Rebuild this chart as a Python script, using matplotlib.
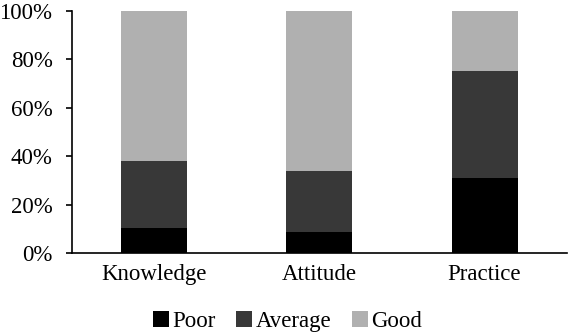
import matplotlib
matplotlib.use('Agg')
import matplotlib.pyplot as plt
from matplotlib.ticker import PercentFormatter
import numpy as np

categories = ['Knowledge', 'Attitude', 'Practice']
poor = [10.5, 8.8, 31.0]
average = [27.5, 25.1, 44.2]
good = [62.0, 66.1, 24.8]

plt.rcParams['font.family'] = ['Liberation Serif', 'DejaVu Serif']

fig = plt.figure(figsize=(5.69, 3.33), dpi=100)
ax = fig.add_axes([0.1265, 0.2402, 0.87, 0.7268])

x = np.arange(len(categories))
poor = np.array(poor)
average = np.array(average)
good = np.array(good)

ax.bar(x, poor, width=0.4, color='#000000', label='Poor')
ax.bar(x, average, width=0.4, bottom=poor, color='#383838', label='Average')
ax.bar(x, good, width=0.4, bottom=poor + average, color='#b0b0b0', label='Good')

ax.set_xlim(-0.5, 2.5)
ax.set_ylim(0, 100)
ax.set_yticks(range(0, 101, 20))
ax.yaxis.set_major_formatter(PercentFormatter(decimals=0))
ax.set_xticks(x)
ax.set_xticklabels(categories)
ax.tick_params(axis='x', length=0, labelsize=16.5, pad=8)
ax.tick_params(axis='y', length=4, width=1.2, labelsize=16.5, pad=10)
for s in ['top', 'right']:
    ax.spines[s].set_visible(False)
ax.spines['left'].set_linewidth(1.2)
ax.spines['bottom'].set_linewidth(1.2)

fig.legend(loc='center', ncol=3, frameon=False, fontsize=16.5,
           handlelength=0.7, handleheight=0.7, handletextpad=0.15,
           columnspacing=0.9, bbox_to_anchor=(0.505, 0.035))

fig.savefig('out.png', dpi=100)
